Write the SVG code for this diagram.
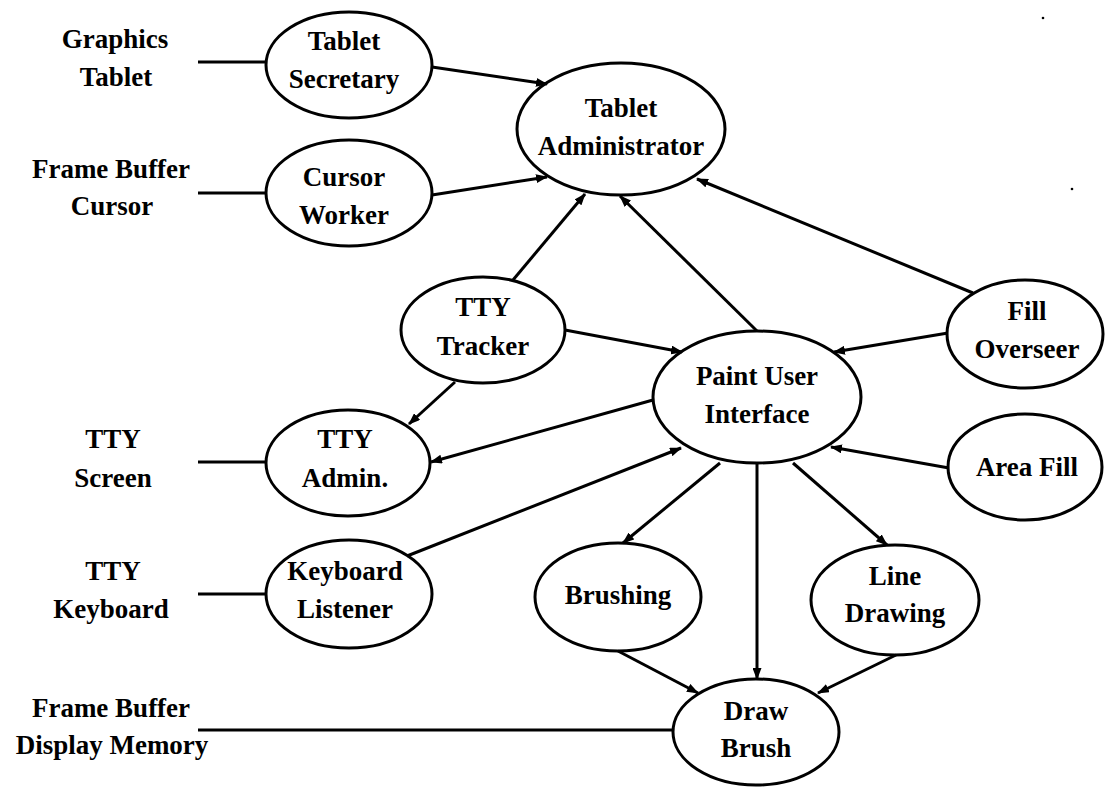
<svg xmlns="http://www.w3.org/2000/svg" width="1108" height="787" viewBox="0 0 1108 787">
<defs>
<style>
.n ellipse{fill:#fff;stroke:#000;stroke-width:3}
text{font-family:"Liberation Serif","Times New Roman",serif;font-size:27px;font-weight:bold;text-anchor:middle;fill:#000}
.c line{stroke:#000;stroke-width:3}
.a{marker-end:url(#ah)}
</style>
<marker id="ah" viewBox="0 0 12 9" refX="11" refY="4.5" markerWidth="12" markerHeight="9" markerUnits="userSpaceOnUse" orient="auto">
<path d="M0,0 L12,4.5 L0,9 Z" fill="#000"/>
</marker>
</defs>
<rect width="1108" height="787" fill="#fff"/>
<g id="graphics-tablet"><text x="115" y="48">Graphics</text><text x="116" y="86">Tablet</text></g>
<g id="frame-buffer-cursor"><text x="111" y="178">Frame Buffer</text><text x="112" y="215">Cursor</text></g>
<g id="tty-screen"><text x="113" y="448">TTY</text><text x="113" y="487">Screen</text></g>
<g id="tty-keyboard"><text x="113" y="580">TTY</text><text x="111" y="618">Keyboard</text></g>
<g id="frame-buffer-display"><text x="111" y="717">Frame Buffer</text><text x="112" y="754">Display Memory</text></g>
<g id="tablet-secretary" class="n"><ellipse cx="349" cy="65" rx="83" ry="53"/><text x="344" y="50">Tablet</text><text x="344" y="88">Secretary</text></g>
<g id="tablet-administrator" class="n"><ellipse cx="621" cy="129" rx="104" ry="66"/><text x="621" y="117">Tablet</text><text x="621" y="155">Administrator</text></g>
<g id="cursor-worker" class="n"><ellipse cx="349" cy="193" rx="83" ry="53"/><text x="344" y="186">Cursor</text><text x="344" y="224">Worker</text></g>
<g id="tty-tracker" class="n"><ellipse cx="483" cy="330" rx="82" ry="53"/><text x="483" y="316">TTY</text><text x="483" y="355">Tracker</text></g>
<g id="fill-overseer" class="n"><ellipse cx="1025" cy="334" rx="78" ry="54"/><text x="1027" y="320">Fill</text><text x="1027" y="358">Overseer</text></g>
<g id="paint-user-interface" class="n"><ellipse cx="757" cy="397" rx="104" ry="66"/><text x="757" y="385">Paint User</text><text x="757" y="423">Interface</text></g>
<g id="tty-admin" class="n"><ellipse cx="348" cy="463" rx="82" ry="53"/><text x="345" y="448">TTY</text><text x="345" y="487">Admin.</text></g>
<g id="area-fill" class="n"><ellipse cx="1025" cy="467" rx="77" ry="53"/><text x="1027" y="476">Area Fill</text></g>
<g id="keyboard-listener" class="n"><ellipse cx="349" cy="594" rx="83" ry="54"/><text x="345" y="580">Keyboard</text><text x="345" y="618">Listener</text></g>
<g id="brushing" class="n"><ellipse cx="618" cy="597" rx="83" ry="54"/><text x="618" y="604">Brushing</text></g>
<g id="line-drawing" class="n"><ellipse cx="895" cy="600" rx="84" ry="55"/><text x="895" y="585">Line</text><text x="895" y="622">Drawing</text></g>
<g id="draw-brush" class="n"><ellipse cx="756" cy="732" rx="83" ry="53"/><text x="756" y="720">Draw</text><text x="756" y="757">Brush</text></g>
<g id="connectors" class="c">
<line x1="198" y1="62" x2="267" y2="62"/>
<line x1="198" y1="193" x2="266" y2="193"/>
<line x1="198" y1="462" x2="266" y2="462"/>
<line x1="198" y1="594" x2="266" y2="594"/>
<line x1="198" y1="730" x2="673" y2="730"/>
<line class="a" x1="432" y1="67" x2="547" y2="84"/>
<line class="a" x1="432" y1="195" x2="547" y2="177"/>
<line class="a" x1="513" y1="280" x2="585" y2="194"/>
<line class="a" x1="757" y1="331" x2="620" y2="196"/>
<line class="a" x1="973" y1="293" x2="697" y2="179"/>
<line class="a" x1="565" y1="330" x2="682" y2="352"/>
<line class="a" x1="948" y1="333" x2="834" y2="352"/>
<line class="a" x1="455" y1="382" x2="409" y2="424"/>
<line class="a" x1="653" y1="400" x2="431" y2="462"/>
<line class="a" x1="949" y1="468" x2="831" y2="447"/>
<line class="a" x1="407" y1="556" x2="681" y2="448"/>
<line class="a" x1="720" y1="463" x2="623" y2="543"/>
<line class="a" x1="757" y1="463" x2="757" y2="679"/>
<line class="a" x1="793" y1="463" x2="887" y2="545"/>
<line class="a" x1="618" y1="651" x2="698" y2="693"/>
<line class="a" x1="896" y1="655" x2="818" y2="693"/>
</g>
<circle cx="1043" cy="18" r="1.3" fill="#000"/>
<circle cx="1072" cy="189" r="1.3" fill="#000"/>
</svg>
